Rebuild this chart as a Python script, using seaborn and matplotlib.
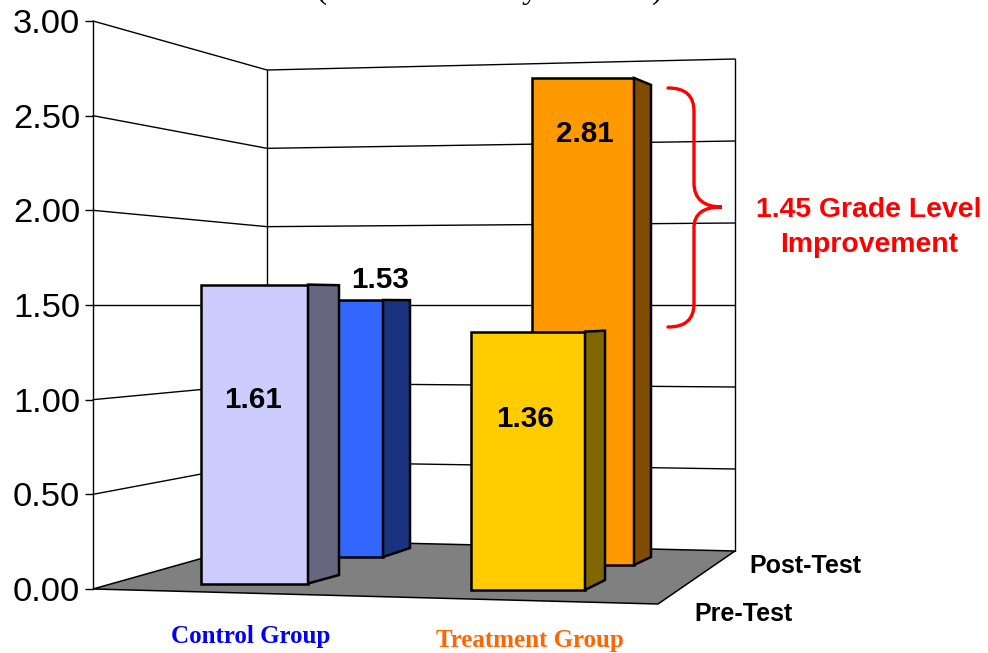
# Pseudo 3D bar chart, pre vs post test for control and treatment group
import matplotlib
matplotlib.use("Agg")
import matplotlib.pyplot as plt
from matplotlib.patches import PathPatch, Polygon
from matplotlib.path import Path
import seaborn as sns

W, H = 988, 653

# data
groups = ["Control Group", "Treatment Group"]
tests = ["Pre-Test", "Post-Test"]
pre_values = [1.61, 1.36]
post_values = [1.53, 2.81]
tick_values = [0.0, 0.5, 1.0, 1.5, 2.0, 2.5, 3.0]
brace_text = ["1.45 Grade Level", "Improvement"]

# perspective of the box: value 1.5 sits on the same pixel row everywhere
HORIZON_Y = 305
HORIZON_V = 1.5
FRONT_LEFT = (93, 589)
FRONT_RIGHT = (658, 604)
BACK_LEFT = (267, 540)
BACK_RIGHT = (735, 551)


def project(v, floor_y):
    scale = (floor_y - HORIZON_Y) / HORIZON_V
    return HORIZON_Y - (v - HORIZON_V) * scale


# left, right, side x, floor y front, floor y side
bar_geom = {
    "post_control": (283, 383, 410, 557, 548),
    "post_treatment": (532, 634, 651, 565, 557),
    "pre_control": (201, 308, 339, 583.5, 575),
    "pre_treatment": (471, 585, 605, 590, 580),
}
bar_colors = {
    "post_control": ("#3366FF", "#19337F"),
    "post_treatment": ("#FF9900", "#804C00"),
    "pre_control": ("#CCCCFF", "#666680"),
    "pre_treatment": ("#FFCC00", "#806600"),
}
bar_values = {
    "post_control": post_values[0],
    "post_treatment": post_values[1],
    "pre_control": pre_values[0],
    "pre_treatment": pre_values[1],
}
bar_groups = {
    "post_control": groups[0],
    "post_treatment": groups[1],
    "pre_control": groups[0],
    "pre_treatment": groups[1],
}
label_pos = {
    "post_control": (380, 280),
    "post_treatment": (585, 134),
    "pre_control": (253, 400),
    "pre_treatment": (525, 419),
}

sns.set_theme(style="white")
plt.rcParams["font.family"] = ["Liberation Sans", "DejaVu Sans"]

fig = plt.figure(figsize=(W / 100, H / 100), dpi=100, facecolor="white")

# background in pixel coordinates, walls and floor
bg = fig.add_axes([0, 0, 1, 1], zorder=0)
bg.set_xlim(0, W)
bg.set_ylim(H, 0)
bg.axis("off")

bg.add_patch(Polygon([FRONT_LEFT, BACK_LEFT, BACK_RIGHT, FRONT_RIGHT], closed=True,
                     facecolor="#808080", edgecolor="black", linewidth=1.1, joinstyle="miter"))
for v in tick_values:
    y_front = project(v, FRONT_LEFT[1])
    y_back_l = project(v, BACK_LEFT[1])
    y_back_r = project(v, BACK_RIGHT[1])
    if v > 0:
        bg.plot([FRONT_LEFT[0], BACK_LEFT[0], BACK_RIGHT[0]], [y_front, y_back_l, y_back_r],
                color="black", linewidth=1.0, solid_joinstyle="miter")
bg.plot([BACK_LEFT[0]] * 2, [BACK_LEFT[1], project(3, BACK_LEFT[1])], color="black", linewidth=1.0)
bg.plot([BACK_RIGHT[0]] * 2, [BACK_RIGHT[1], project(3, BACK_RIGHT[1])], color="black", linewidth=1.0)

# value axis on the front left edge
top_y = project(3, FRONT_LEFT[1])
val_ax = fig.add_axes([FRONT_LEFT[0] / W, 1 - FRONT_LEFT[1] / H, 0.001, (FRONT_LEFT[1] - top_y) / H], zorder=1)
val_ax.patch.set_visible(False)
val_ax.set_ylim(0, 3)
val_ax.set_xticks([])
val_ax.set_yticks(tick_values)
val_ax.set_yticklabels([f"{v:.2f}" for v in tick_values], fontsize=24.8, color="black")
val_ax.tick_params(axis="y", left=True, length=5.8, width=1.0, pad=3.4, color="black")
sns.despine(ax=val_ax, top=True, right=True, bottom=True)
val_ax.spines["left"].set_color("black")
val_ax.spines["left"].set_linewidth(1.0)

# one axes per bar, its 0-3 scale follows the perspective at the bar's place
for i, name in enumerate(["post_control", "post_treatment", "pre_control", "pre_treatment"]):
    left, right, side_x, floor_y, side_floor = bar_geom[name]
    face, side = bar_colors[name]
    value = bar_values[name]
    span = (floor_y - HORIZON_Y) / HORIZON_V * 3
    ax = fig.add_axes([left / W, 1 - floor_y / H, (right - left) / W, span / H], zorder=2 + i)
    sns.barplot(x=[bar_groups[name]], y=[value], color=face, saturation=1, width=1,
                edgecolor="black", linewidth=1.8, ax=ax)
    ax.set_xlim(-0.5, 0.5)
    ax.set_ylim(0, 3)
    ax.axis("off")
    for bar in ax.patches:
        bar.set_clip_on(False)
        bar.set_joinstyle("miter")
    front_top = project(value, floor_y)
    ax.add_patch(Polygon([(right, front_top), (side_x, project(value, side_floor)),
                          (side_x, side_floor), (right, floor_y)], closed=True,
                         transform=bg.transData, facecolor=side, edgecolor="black",
                         linewidth=1.8, joinstyle="miter", clip_on=False))

# overlay for text and the brace
fg = fig.add_axes([0, 0, 1, 1], zorder=20)
fg.set_xlim(0, W)
fg.set_ylim(H, 0)
fg.axis("off")
fg.patch.set_visible(False)

for name, (x, y) in label_pos.items():
    fg.text(x, y, f"{bar_values[name]:.2f}", ha="center", va="center", fontsize=21.3,
            fontweight="bold", color="black")

fg.text(749, 566, tests[1], ha="left", va="center", fontsize=18, fontweight="bold", color="black")
fg.text(694, 614, tests[0], ha="left", va="center", fontsize=18, fontweight="bold", color="black")
fg.text(251, 637, groups[0], ha="center", va="center", fontsize=18, fontweight="bold",
        family="Liberation Serif", color="#0000FF")
fg.text(530, 640, groups[1], ha="center", va="center", fontsize=18, fontweight="bold",
        family="Liberation Serif", color="#FF6600")
fg.text(869, 210, brace_text[0], ha="center", va="center", fontsize=20.4, fontweight="bold", color="#FF0000")
fg.text(869, 245, brace_text[1], ha="center", va="center", fontsize=20.4, fontweight="bold", color="#FF0000")

# title is cut by the top of the image, only these bits show
for x, s in [(321, "("), (530, "y"), (657, ")")]:
    fg.text(x, -2, s, ha="center", va="baseline", fontsize=24, family="Liberation Serif", color="black")

brace = Path(
    [(668, 88), (686, 88), (694, 96), (694, 112), (694, 183), (694, 199), (704, 207), (722, 207),
     (704, 207), (694, 213), (694, 228), (694, 303), (694, 319), (686, 327), (668, 327)],
    [Path.MOVETO, Path.CURVE4, Path.CURVE4, Path.CURVE4, Path.LINETO, Path.CURVE4, Path.CURVE4, Path.CURVE4,
     Path.CURVE4, Path.CURVE4, Path.CURVE4, Path.LINETO, Path.CURVE4, Path.CURVE4, Path.CURVE4],
)
fg.add_patch(PathPatch(brace, facecolor="none", edgecolor="#FF0000", linewidth=2.4, capstyle="round"))

fig.savefig("out.png", dpi=100)
